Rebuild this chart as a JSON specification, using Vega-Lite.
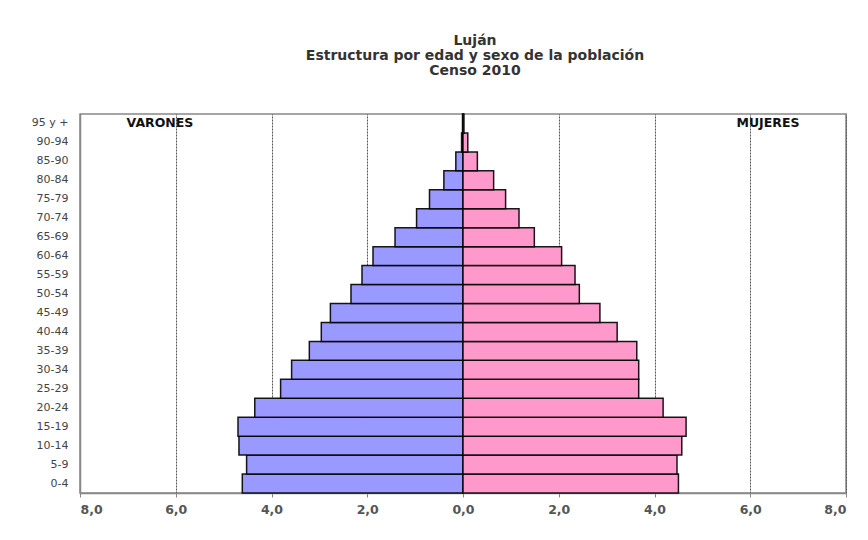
{
  "$schema": "https://vega.github.io/schema/vega-lite/v6.json",
  "width": 766,
  "height": 379,
  "autosize": {"type": "none"},
  "padding": {"left": 80, "top": 114, "right": 22, "bottom": 47},
  "background": "white",
  "title": {
    "text": ["Luján", "Estructura por edad y sexo de la población", "Censo 2010"],
    "anchor": "middle",
    "frame": "group",
    "dx": 12,
    "offset": 35,
    "font": "DejaVu Sans",
    "fontSize": 14,
    "fontWeight": "bold",
    "color": "#333",
    "lineHeight": 15
  },
  "config": {
    "view": {"stroke": "#888", "strokeWidth": 1.5},
    "font": "DejaVu Sans"
  },
  "datasets": {
    "pop": [
      {"edad": "0-4", "sexo": "Varones", "valor": -4.61},
      {"edad": "5-9", "sexo": "Varones", "valor": -4.52},
      {"edad": "10-14", "sexo": "Varones", "valor": -4.68},
      {"edad": "15-19", "sexo": "Varones", "valor": -4.70},
      {"edad": "20-24", "sexo": "Varones", "valor": -4.35},
      {"edad": "25-29", "sexo": "Varones", "valor": -3.81},
      {"edad": "30-34", "sexo": "Varones", "valor": -3.58},
      {"edad": "35-39", "sexo": "Varones", "valor": -3.21},
      {"edad": "40-44", "sexo": "Varones", "valor": -2.96},
      {"edad": "45-49", "sexo": "Varones", "valor": -2.77},
      {"edad": "50-54", "sexo": "Varones", "valor": -2.34},
      {"edad": "55-59", "sexo": "Varones", "valor": -2.11},
      {"edad": "60-64", "sexo": "Varones", "valor": -1.88},
      {"edad": "65-69", "sexo": "Varones", "valor": -1.42},
      {"edad": "70-74", "sexo": "Varones", "valor": -0.97},
      {"edad": "75-79", "sexo": "Varones", "valor": -0.70},
      {"edad": "80-84", "sexo": "Varones", "valor": -0.40},
      {"edad": "85-90", "sexo": "Varones", "valor": -0.15},
      {"edad": "90-94", "sexo": "Varones", "valor": -0.03},
      {"edad": "95 y +", "sexo": "Varones", "valor": -0.01},
      {"edad": "0-4", "sexo": "Mujeres", "valor": 4.50},
      {"edad": "5-9", "sexo": "Mujeres", "valor": 4.47},
      {"edad": "10-14", "sexo": "Mujeres", "valor": 4.57},
      {"edad": "15-19", "sexo": "Mujeres", "valor": 4.66},
      {"edad": "20-24", "sexo": "Mujeres", "valor": 4.18},
      {"edad": "25-29", "sexo": "Mujeres", "valor": 3.67},
      {"edad": "30-34", "sexo": "Mujeres", "valor": 3.67},
      {"edad": "35-39", "sexo": "Mujeres", "valor": 3.63},
      {"edad": "40-44", "sexo": "Mujeres", "valor": 3.22},
      {"edad": "45-49", "sexo": "Mujeres", "valor": 2.86},
      {"edad": "50-54", "sexo": "Mujeres", "valor": 2.43},
      {"edad": "55-59", "sexo": "Mujeres", "valor": 2.34},
      {"edad": "60-64", "sexo": "Mujeres", "valor": 2.06},
      {"edad": "65-69", "sexo": "Mujeres", "valor": 1.49},
      {"edad": "70-74", "sexo": "Mujeres", "valor": 1.17},
      {"edad": "75-79", "sexo": "Mujeres", "valor": 0.89},
      {"edad": "80-84", "sexo": "Mujeres", "valor": 0.64},
      {"edad": "85-90", "sexo": "Mujeres", "valor": 0.30},
      {"edad": "90-94", "sexo": "Mujeres", "valor": 0.10},
      {"edad": "95 y +", "sexo": "Mujeres", "valor": 0.02}
    ],
    "etiquetas": [
      {"edad": "95 y +", "pos": -6.33, "texto": "VARONES"},
      {"edad": "95 y +", "pos": 6.37, "texto": "MUJERES"}
    ]
  },
  "encoding": {
    "y": {
      "field": "edad",
      "type": "ordinal",
      "sort": ["95 y +", "90-94", "85-90", "80-84", "75-79", "70-74", "65-69", "60-64", "55-59", "50-54", "45-49", "40-44", "35-39", "30-34", "25-29", "20-24", "15-19", "10-14", "5-9", "0-4"],
      "scale": {"paddingInner": 0, "paddingOuter": 0},
      "axis": {
        "title": null,
        "ticks": false,
        "labelPadding": 12,
        "labelFont": "DejaVu Sans",
        "labelFontSize": 11,
        "labelFontWeight": "normal",
        "labelColor": "#444",
        "domainColor": "#888",
        "domainWidth": 1.5
      }
    }
  },
  "layer": [
    {
      "data": {"name": "pop"},
      "mark": {"type": "bar", "stroke": "black", "strokeWidth": 1.5, "strokeOpacity": 0.9},
      "encoding": {
        "x": {
          "field": "valor",
          "type": "quantitative",
          "scale": {"domain": [-8, 8], "nice": false, "zero": false},
          "axis": {
            "title": null,
            "values": [-8, -6, -4, -2, 0, 2, 4, 6, 8],
            "labelExpr": "replace(format(abs(datum.value), '.1f'), '.', ',')",
            "labelFont": "DejaVu Sans",
            "labelFontSize": 12.5,
            "labelFontWeight": "bold",
            "labelColor": "#555",
            "labelPadding": 6,
            "tickSize": 4,
            "tickColor": "#888",
            "domainColor": "#888",
            "domainWidth": 1.5,
            "grid": true,
            "gridColor": "#555",
            "gridDash": [2, 1],
            "gridWidth": 1
          }
        },
        "color": {
          "field": "sexo",
          "type": "nominal",
          "scale": {"domain": ["Varones", "Mujeres"], "range": ["#9999ff", "#ff99cc"]},
          "legend": null
        }
      }
    },
    {
      "data": {"name": "etiquetas"},
      "mark": {"type": "text", "font": "DejaVu Sans", "fontSize": 12.5, "fontWeight": "bold", "color": "#111", "align": "center", "baseline": "middle"},
      "encoding": {
        "x": {"field": "pos", "type": "quantitative"},
        "text": {"field": "texto"}
      }
    }
  ]
}
